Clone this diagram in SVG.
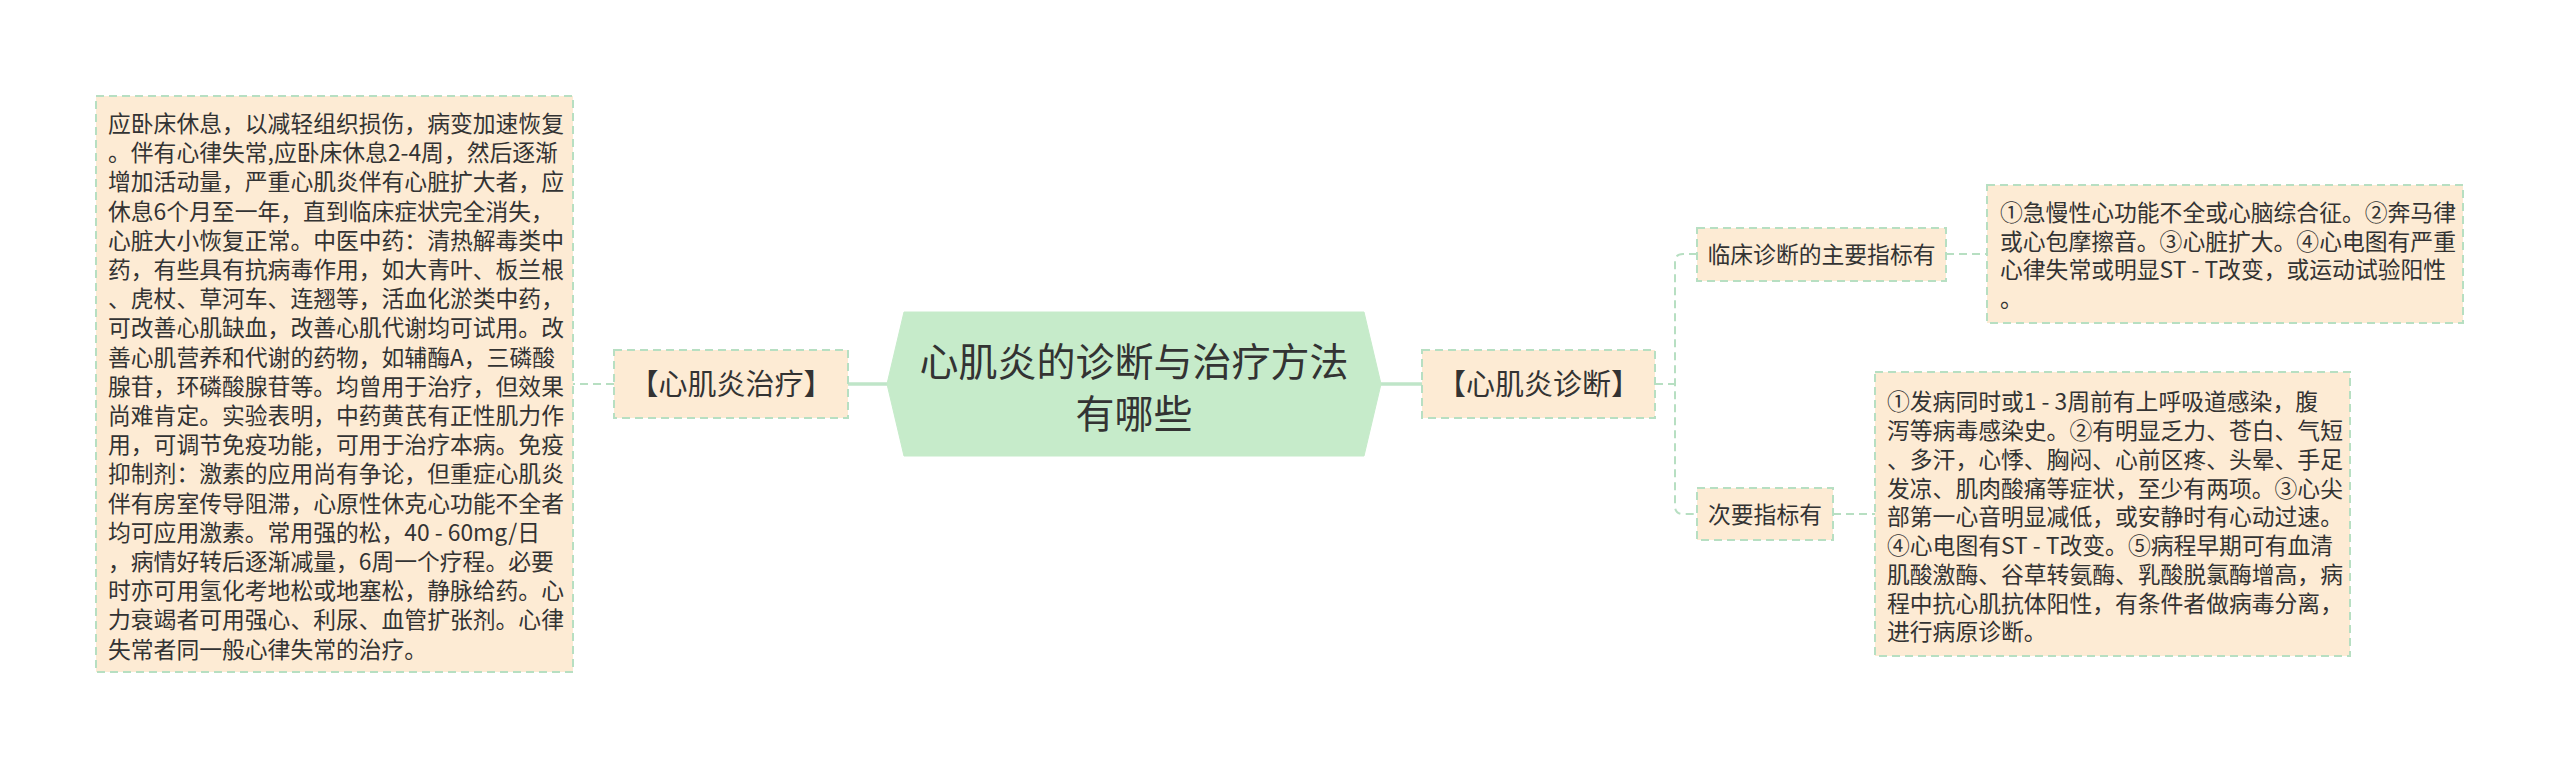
<svg xmlns="http://www.w3.org/2000/svg" width="2560" height="769" viewBox="0 0 2560 769">
<style>
.box{fill:#fdebd4;stroke:#b7dfc2;stroke-width:2;stroke-dasharray:8 5;}
.hex{fill:#c6ebca;stroke:#c6ebca;stroke-width:1;}
.t{font-family:"Microsoft YaHei","Noto Sans CJK SC","Noto Sans",sans-serif;fill:#333333;}
.body{font-size:22.8px;}
.lbl{font-size:22.8px;text-anchor:middle;}
.sub{font-size:29px;text-anchor:middle;}
.main{font-size:39px;text-anchor:middle;}
.solid{fill:none;stroke:#bfe5c8;stroke-width:3.5;}
.dash{fill:none;stroke:#b7dfc2;stroke-width:2;stroke-dasharray:8 5;}
</style>
<rect width="2560" height="769" fill="#ffffff"/>
<g id="connectors">
<path class="solid" d="M848 384 H888"/>
<path class="solid" d="M1380 384 H1422"/>
<path class="dash" d="M614 384 H573"/>
<path class="dash" d="M1655 384 H1675"/>
<path class="dash" d="M1697 254 H1683 Q1675 254 1675 262 V506 Q1675 514 1683 514 H1697"/>
<path class="dash" d="M1946 254 H1987"/>
<path class="dash" d="M1833 514 H1875"/>
</g>
<g id="root">
<polygon class="hex" points="887,384 904,312 1364,312 1381,384 1364,456 904,456"/>
<text class="t main" x="1134" y="376">心肌炎的诊断与治疗方法</text>
<text class="t main" x="1134" y="428">有哪些</text>
</g>
<g id="treat">
<rect class="box" x="614" y="350" width="234" height="68"/>
<text class="t sub" x="731" y="395">【心肌炎治疗】</text>
</g>
<g id="treat-detail">
<rect class="box" x="96" y="96" width="477" height="576"/>
<text class="t body" x="108" y="132">
<tspan x="108" y="132">应卧床休息，以减轻组织损伤，病变加速恢复</tspan>
<tspan x="108" y="161.2">。伴有心律失常,应卧床休息2-4周，然后逐渐</tspan>
<tspan x="108" y="190.4">增加活动量，严重心肌炎伴有心脏扩大者，应</tspan>
<tspan x="108" y="219.6">休息6个月至一年，直到临床症状完全消失，</tspan>
<tspan x="108" y="248.8">心脏大小恢复正常。中医中药：清热解毒类中</tspan>
<tspan x="108" y="278">药，有些具有抗病毒作用，如大青叶、板兰根</tspan>
<tspan x="108" y="307.2">、虎杖、草河车、连翘等，活血化淤类中药，</tspan>
<tspan x="108" y="336.4">可改善心肌缺血，改善心肌代谢均可试用。改</tspan>
<tspan x="108" y="365.6">善心肌营养和代谢的药物，如辅酶A，三磷酸</tspan>
<tspan x="108" y="394.8">腺苷，环磷酸腺苷等。均曾用于治疗，但效果</tspan>
<tspan x="108" y="424">尚难肯定。实验表明，中药黄芪有正性肌力作</tspan>
<tspan x="108" y="453.2">用，可调节免疫功能，可用于治疗本病。免疫</tspan>
<tspan x="108" y="482.4">抑制剂：激素的应用尚有争论，但重症心肌炎</tspan>
<tspan x="108" y="511.6">伴有房室传导阻滞，心原性休克心功能不全者</tspan>
<tspan x="108" y="540.8">均可应用激素。常用强的松，40 - 60mg/日</tspan>
<tspan x="108" y="570">，病情好转后逐渐减量，6周一个疗程。必要</tspan>
<tspan x="108" y="599.2">时亦可用氢化考地松或地塞松，静脉给药。心</tspan>
<tspan x="108" y="628.4">力衰竭者可用强心、利尿、血管扩张剂。心律</tspan>
<tspan x="108" y="657.6">失常者同一般心律失常的治疗。</tspan>
</text>
</g>
<g id="diag">
<rect class="box" x="1422" y="350" width="233" height="68"/>
<text class="t sub" x="1538.5" y="395">【心肌炎诊断】</text>
</g>
<g id="main-index">
<rect class="box" x="1697" y="228" width="249" height="53"/>
<text class="t lbl" x="1821.5" y="263">临床诊断的主要指标有</text>
</g>
<g id="main-index-detail">
<rect class="box" x="1987" y="185" width="476" height="138"/>
<text class="t body">
<tspan x="2000" y="221.2">①急慢性心功能不全或心脑综合征。②奔马律</tspan>
<tspan x="2000" y="249.8">或心包摩擦音。③心脏扩大。④心电图有严重</tspan>
<tspan x="2000" y="278.4">心律失常或明显ST - T改变，或运动试验阳性</tspan>
<tspan x="2000" y="307">。</tspan>
</text>
</g>
<g id="minor-index">
<rect class="box" x="1697" y="488" width="136" height="52"/>
<text class="t lbl" x="1765" y="523">次要指标有</text>
</g>
<g id="minor-index-detail">
<rect class="box" x="1875" y="372" width="475" height="284"/>
<text class="t body">
<tspan x="1887" y="410.4">①发病同时或1 - 3周前有上呼吸道感染，腹</tspan>
<tspan x="1887" y="439.2">泻等病毒感染史。②有明显乏力、苍白、气短</tspan>
<tspan x="1887" y="467.9">、多汗，心悸、胸闷、心前区疼、头晕、手足</tspan>
<tspan x="1887" y="496.7">发凉、肌肉酸痛等症状，至少有两项。③心尖</tspan>
<tspan x="1887" y="525.4">部第一心音明显减低，或安静时有心动过速。</tspan>
<tspan x="1887" y="554.2">④心电图有ST - T改变。⑤病程早期可有血清</tspan>
<tspan x="1887" y="582.9">肌酸激酶、谷草转氨酶、乳酸脱氯酶增高，病</tspan>
<tspan x="1887" y="611.7">程中抗心肌抗体阳性，有条件者做病毒分离，</tspan>
<tspan x="1887" y="640.4">进行病原诊断。</tspan>
</text>
</g>
</svg>
